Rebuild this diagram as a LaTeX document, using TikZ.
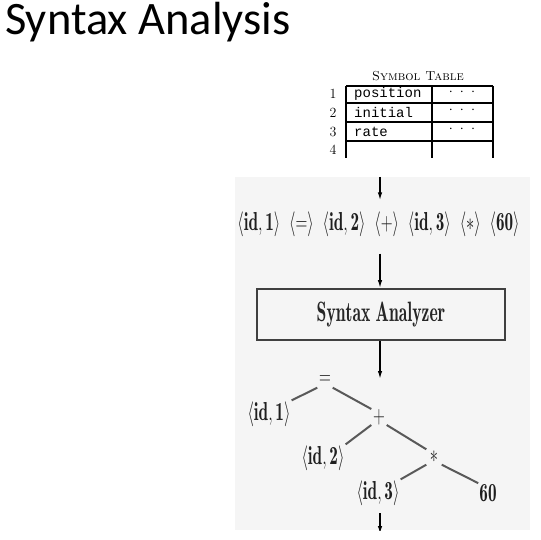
\documentclass[tikz,border=0pt]{standalone}
\usepackage{fontspec}
\usepackage{graphicx}
\usetikzlibrary{arrows.meta}
\newfontfamily\titlefont{Carlito}
\setmonofont{Liberation Mono}
\newcommand{\sqz}[1]{\scalebox{0.66}[1]{#1}}
\newcommand{\figsize}{\fontsize{26}{28}\selectfont}
\newcommand{\tgap}{\hspace{0.52em}}
\newcommand{\tk}[1]{$\langle#1\rangle$}
\begin{document}
\begin{tikzpicture}[x=1pt,y=-1pt,
  arr/.style={line width=1.4pt,-{Latex[length=8pt,width=4.5pt]}},
  edge/.style={line width=2pt,draw=black!65},
  lbl/.style={inner sep=1pt,font=\figsize,text=black!88},
  op/.style={inner sep=0pt,minimum size=15pt,font=\figsize,text=black!85},
  tline/.style={line width=1.4pt},
  cell/.style={font=\fontsize{14}{16}\ttfamily,anchor=west,inner sep=0pt},
  num/.style={font=\fontsize{14}{16}\selectfont,inner sep=0pt}]
\useasboundingbox (0,0) rectangle (541,540);
% title
\node[anchor=base west,inner sep=0pt,font=\titlefont\fontsize{46.5}{50}\selectfont] (title) at (5,35) {Syntax Analysis};
% symbol table
\node[font=\fontsize{13}{15}\selectfont,inner sep=0pt] (sthead) at (418,76) {\textsc{Symbol Table}};
\draw[tline] (346,86) -- (493,86) (346,103) -- (493,103) (346,122) -- (493,122) (346,141) -- (493,141);
\draw[tline] (346,86) -- (346,158) (432,86) -- (432,158) (493,86) -- (493,158);
\node[num] (n1) at (333,94) {1};
\node[num] (n2) at (333,112.5) {2};
\node[num] (n3) at (333,131.5) {3};
\node[num] (n4) at (333,150) {4};
\node[cell] (c1) at (354,94) {position};
\node[cell] (c2) at (354,112.5) {initial};
\node[cell] (c3) at (354,131.5) {rate};
\node[num] (d1) at (462,92) {$\cdot\;\cdot\;\cdot$};
\node[num] (d2) at (462,110.5) {$\cdot\;\cdot\;\cdot$};
\node[num] (d3) at (462,129.5) {$\cdot\;\cdot\;\cdot$};
% scanned figure background
\fill[black!4] (235,177) rectangle (530,530);
\coordinate (in) at (380,177);
\node[lbl] (toks) at (378.5,224) {\sqz{\tk{\mathbf{id},\mathbf{1}}\tgap\tk{=}\tgap\tk{\mathbf{id},\mathbf{2}}\tgap\tk{+}\tgap\tk{\mathbf{id},\mathbf{3}}\tgap\tk{*}\tgap\tk{\mathbf{60}}}};
\draw[arr,shorten >=10pt] (in) -- (in |- toks.north);
\node[draw,line width=1.8pt,draw=black!75,minimum width=248pt,minimum height=51pt,inner sep=0pt,font=\fontsize{28}{30}\selectfont,text=black!85] (sa) at (381,314.5) {\scalebox{0.63}[1]{$\mathbf{Syntax\ Analyzer}$}};
\draw[arr,shorten <=16pt] (toks.south -| in) -- (sa.north -| in);
\coordinate (treein) at (380,379);
\draw[arr] (sa.south -| treein) -- (treein);
% tree
\node[op] (eq) at (325,380) {\sqz{$=$}};
\node[lbl] (id1) at (269,414) {\sqz{\tk{\mathbf{id},\mathbf{1}}}};
\node[op] (plus) at (379,417) {\sqz{$+$}};
\node[lbl] (id2) at (323,458) {\sqz{\tk{\mathbf{id},\mathbf{2}}}};
\node[op] (star) at (434,457) {\sqz{$*$}};
\node[lbl] (id3) at (378,493) {\sqz{\tk{\mathbf{id},\mathbf{3}}}};
\node[lbl] (n60) at (488,493) {\sqz{$\mathbf{60}$}};
\draw[edge] (eq.south west) -- (id1.north east);
\draw[edge] (eq.south east) -- (plus.north west);
\draw[edge] (plus.south west) -- (id2.north east);
\draw[edge] (plus.south east) -- (star.north west);
\draw[edge] (star.south west) -- (id3.north east);
\draw[edge] (star.south east) -- (n60.north west);
\coordinate (o1) at (380,513);
\coordinate (o2) at (380,534);
\begin{scope}
\clip (235,177) rectangle (530,530);
\draw[arr] (o1) -- (o2);
\end{scope}
\end{tikzpicture}
\end{document}
